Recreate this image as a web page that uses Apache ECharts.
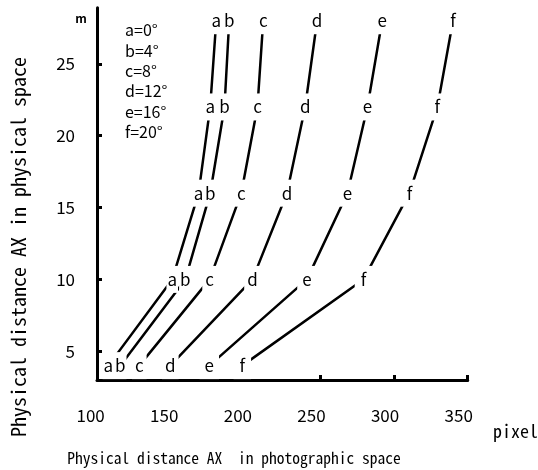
<!DOCTYPE html>
<html>
<head>
<meta charset="utf-8">
<script src="https://cdn.jsdelivr.net/npm/echarts@6/dist/echarts.min.js"></script>
<style>html,body{margin:0;padding:0;background:#fff}#c{width:538px;height:470px}</style>
</head>
<body>
<div id="c"></div>
<script>
// Physical distance levels (m) at which each line is sampled
const yLevels = [4, 10, 16, 22, 28];
// Photographic distance (pixel) for each camera angle
const aX = [105.9, 149.3, 167.2, 175.1, 179.2];
const bX = [114.0, 158.2, 175.1, 184.8, 188.0];
const cX = [126.9, 174.7, 196.2, 207.2, 211.1];
const dX = [148.0, 203.8, 227.2, 239.6, 247.7];
const eX = [174.5, 240.8, 268.3, 281.9, 291.9];
const fX = [196.9, 279.2, 310.4, 329.4, 340.0];
const letters = ['a', 'b', 'c', 'd', 'e', 'f'];
const angleNames = ['a=0°', 'b=4°', 'c=8°', 'd=12°', 'e=16°', 'f=20°'];
const xTicks = [100, 150, 200, 250, 300, 350];
const yTicks = [5, 10, 15, 20, 25];
const xTitle = 'Physical distance AX  in photographic space';
const yTitle = 'Physical distance AX in physical space';

const allX = [aX, bX, cX, dX, eX, fX];
const monoFont = '"Noto Sans Mono CJK JP", "DejaVu Sans Mono", monospace';
const sansFont = '"Noto Sans CJK JP", "Noto Sans", sans-serif';
// horizontal gap around the point letters (wider for the flatter lines)
const hPad = [1, 1, 3, 3, 5, 6];

const series = allX.map((xs, i) => ({
  name: angleNames[i],
  type: 'line',
  data: xs.map((x, k) => [x, yLevels[k]]),
  symbol: 'circle',
  symbolSize: 1,
  itemStyle: { color: '#fff' },
  lineStyle: { color: '#000', width: 2.5 },
  label: {
    show: true,
    position: 'inside',
    formatter: () => letters[i],
    fontFamily: sansFont,
    fontSize: 17,
    color: '#000',
    backgroundColor: '#fff',
    padding: [5, hPad[i], 5, hPad[i]]
  },
  emphasis: { disabled: true },
  z: 2
}));

const chart = echarts.init(document.getElementById('c'), null, { renderer: 'canvas' });
chart.setOption({
  animation: false,
  backgroundColor: '#fff',
  grid: { left: 97, right: 70.3, top: 7.8, bottom: 90 },
  legend: {
    data: angleNames,
    orient: 'vertical',
    left: 115,
    top: 15,
    icon: 'none',
    itemWidth: 0,
    itemHeight: 10,
    itemGap: 0,
    selectedMode: false,
    textStyle: { color: '#000', fontFamily: sansFont, fontSize: 16, lineHeight: 20.4 }
  },
  xAxis: {
    type: 'value',
    min: 98.2,
    max: 350,
    splitLine: { show: false },
    axisLine: { show: true, lineStyle: { color: '#000', width: 3 } },
    axisTick: { show: true, inside: true, length: 5, customValues: [150, 200, 250, 300, 350], lineStyle: { color: '#000', width: 3 } },
    axisLabel: { customValues: xTicks, margin: 27, color: '#000', fontFamily: sansFont, fontSize: 17, padding: [0, 18, 0, 0] }
  },
  yAxis: {
    type: 'value',
    min: 3,
    max: 28.9,
    splitLine: { show: false },
    axisLine: { show: true, lineStyle: { color: '#000', width: 3 } },
    axisTick: { show: true, inside: true, length: 5, customValues: yTicks, lineStyle: { color: '#000', width: 3 } },
    axisLabel: { customValues: yTicks, margin: 22, color: '#000', fontFamily: sansFont, fontSize: 17 }
  },
  graphic: [
    { type: 'text', x: 234, y: 458, style: { text: xTitle, font: '15.5px ' + monoFont, fill: '#000', align: 'center', verticalAlign: 'middle' } },
    { type: 'text', x: 18, y: 247, rotation: Math.PI / 2, style: { text: yTitle, font: '20px ' + monoFont, fill: '#000', align: 'center', verticalAlign: 'middle' } },
    { type: 'text', x: 493, y: 431, style: { text: 'pixel', font: '18px ' + monoFont, fill: '#000', align: 'left', verticalAlign: 'middle' } },
    { type: 'text', x: 81, y: 18, style: { text: 'm', font: 'bold 12px ' + sansFont, fill: '#000', align: 'center', verticalAlign: 'middle' } }
  ],
  series: series
});
</script>
</body>
</html>
